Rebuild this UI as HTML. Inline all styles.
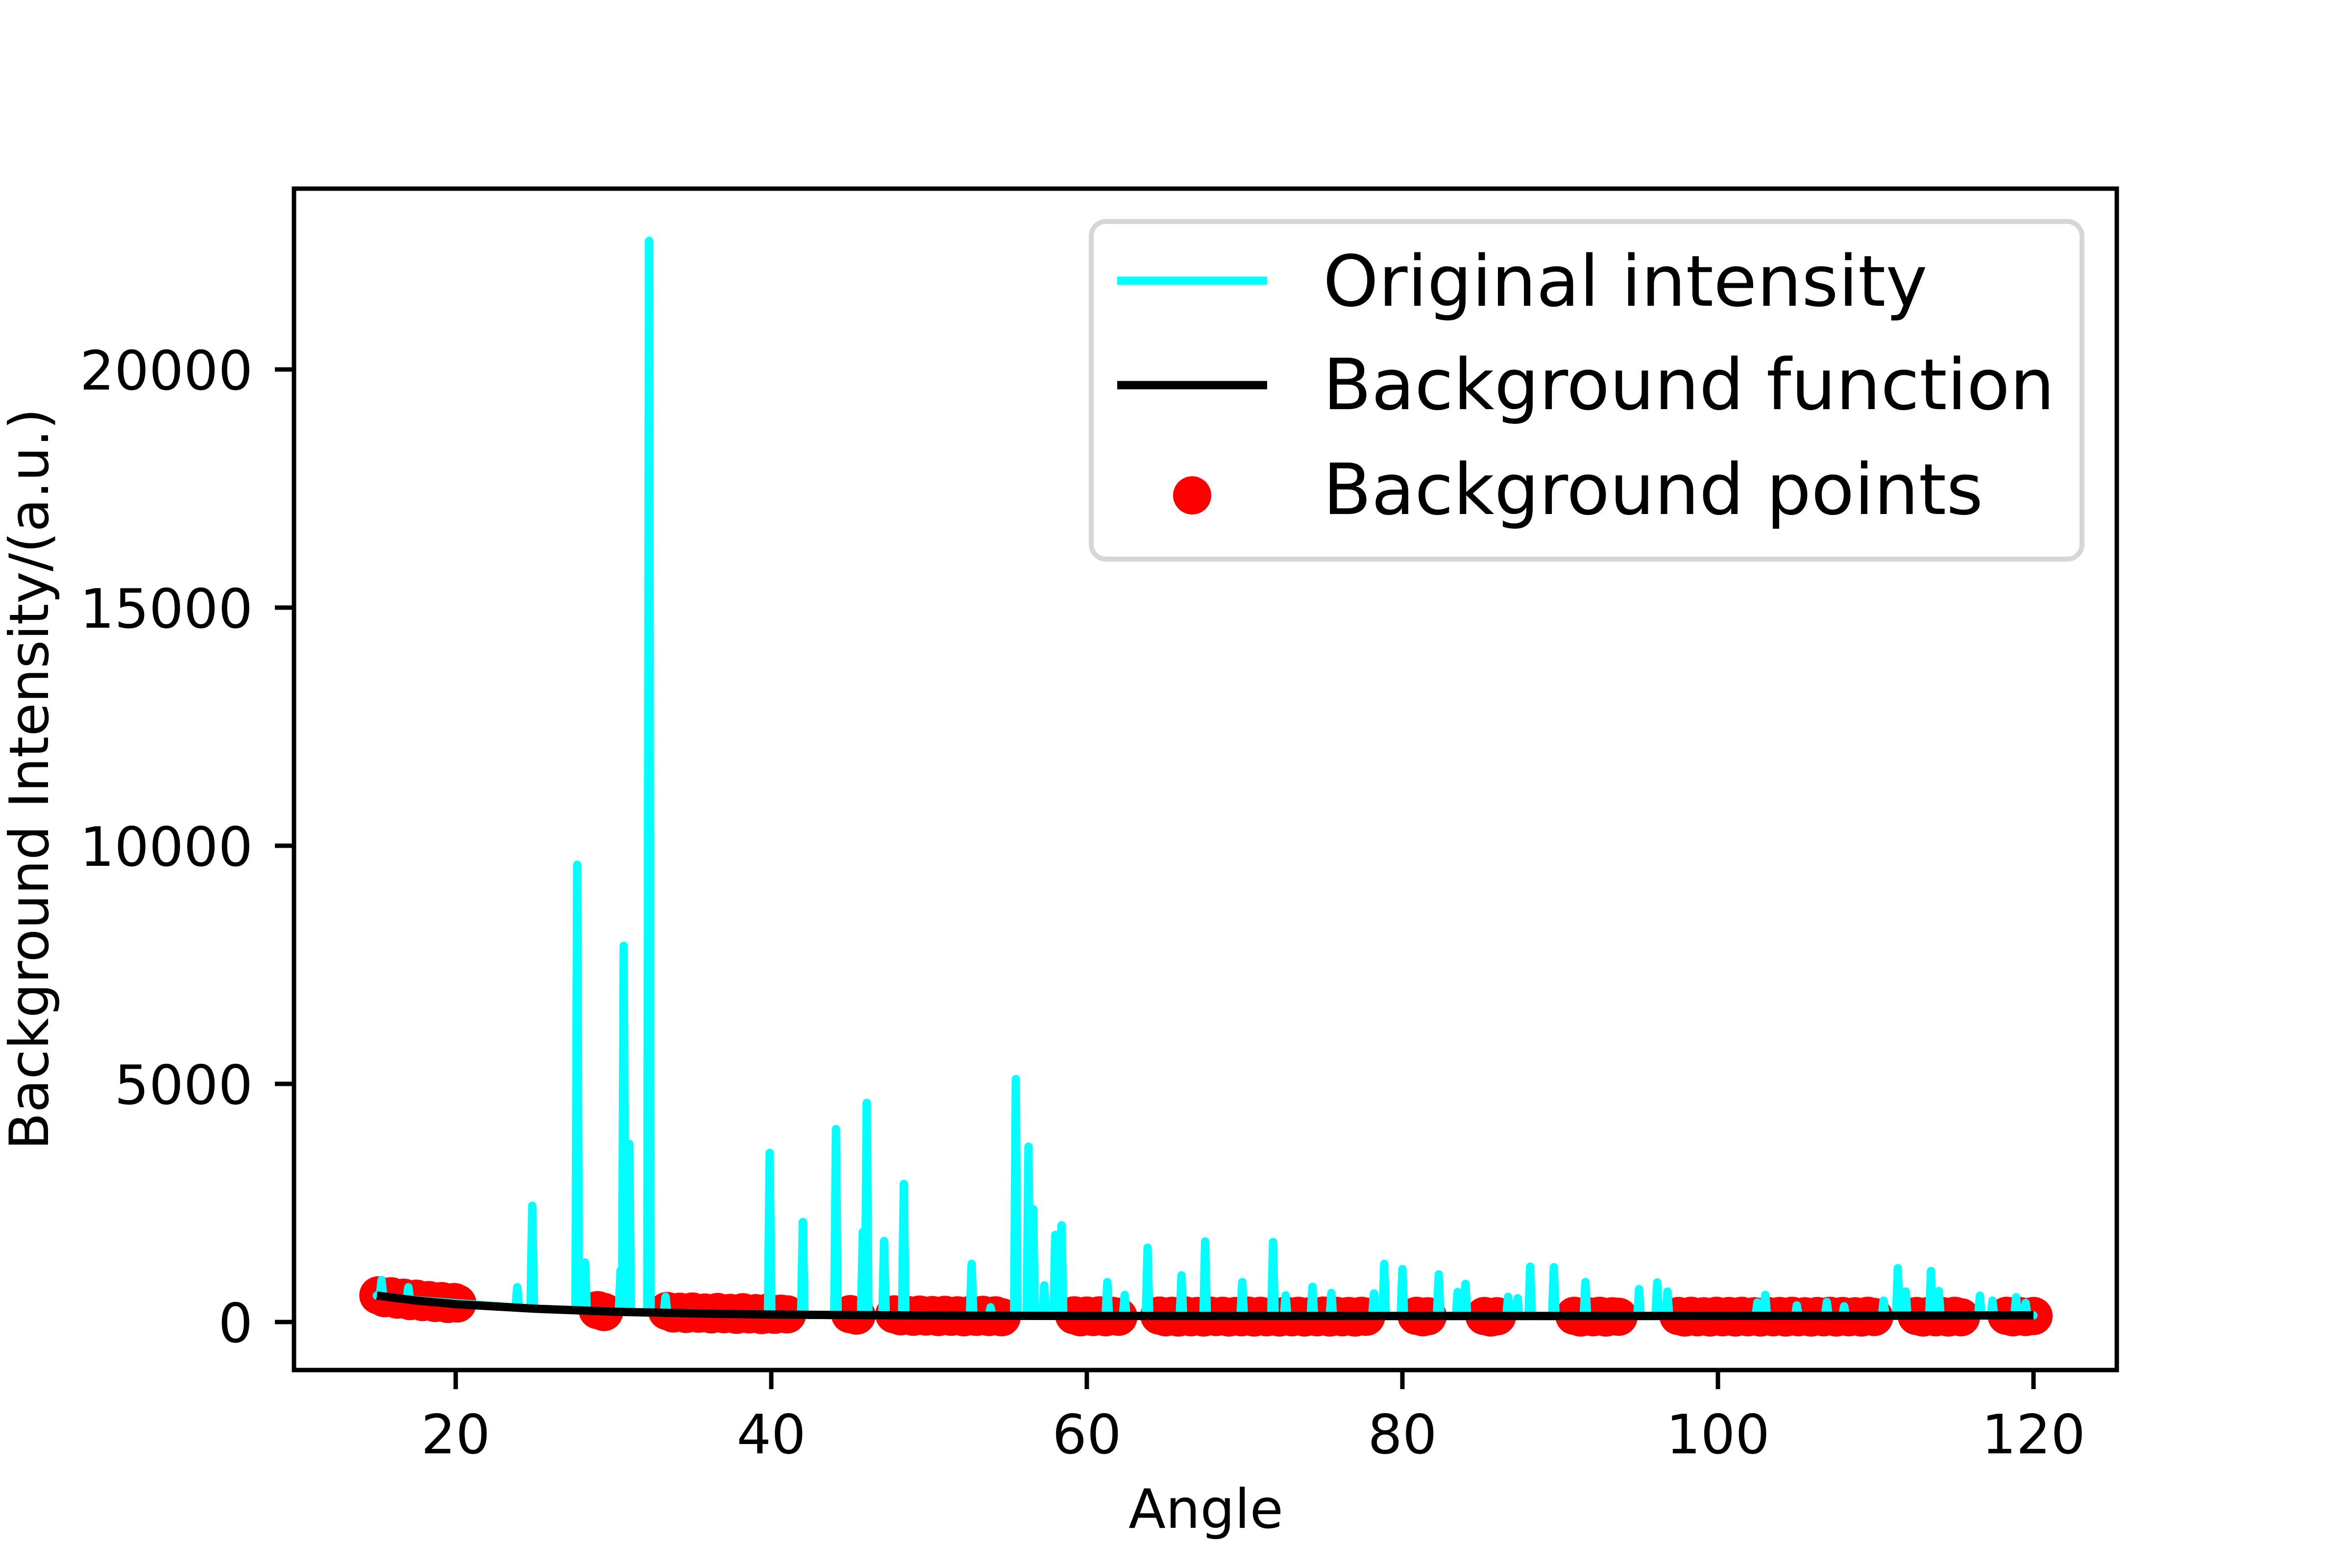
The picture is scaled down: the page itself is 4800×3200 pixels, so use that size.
<!DOCTYPE html>
<html>
<head>
<meta charset="utf-8">
<style>
html,body{margin:0;padding:0;background:#fff;}
svg{display:block;}
text{font-family:"DejaVu Sans","Liberation Sans",sans-serif;fill:#000;}
</style>
</head>
<body>
<svg id="chart" width="4800" height="3200" viewBox="0 0 4800 3200" xmlns="http://www.w3.org/2000/svg">
<rect x="0" y="0" width="4800" height="3200" fill="#fff"/>
<g id="plot"></g>
<g id="axes"></g>
<text x="2461" y="3118" font-size="111" text-anchor="middle">Angle</text>
<text transform="translate(98,1590) rotate(-90)" font-size="111" text-anchor="middle">Background Intensity/(a.u.)</text>
<g>
  <rect x="2227" y="452" width="2022" height="689" rx="30" ry="30" fill="#fff" fill-opacity="0.8" stroke="#d6d6d6" stroke-width="10"/>
  <line x1="2280" y1="573" x2="2586" y2="573" stroke="#00ffff" stroke-width="17"/>
  <text x="2700" y="624" font-size="144">Original intensity</text>
  <line x1="2280" y1="786" x2="2586" y2="786" stroke="#000" stroke-width="17"/>
  <text x="2700" y="835" font-size="144">Background function</text>
  <circle cx="2433" cy="1011" r="39" fill="#ff0000"/>
  <text x="2700" y="1049" font-size="144">Background points</text>
</g>
</svg>
<script>
// ---- data ----
const peakAngles = [15.3,17.0,23.9,24.85,27.7,28.2,30.45,30.65,31.0,32.25,33.3,39.9,42.0,44.1,45.8,46.05,47.15,48.4,52.7,53.9,55.5,56.3,56.6,57.3,58.0,58.4,61.3,62.4,63.85,66.0,67.5,69.85,71.8,72.6,74.3,75.5,78.2,78.85,80.0,82.3,83.5,84.0,86.7,87.3,88.1,89.6,91.6,95.0,96.15,96.8,102.5,103.0,105.0,106.9,108.0,110.5,111.4,111.9,113.5,114.0,116.6,117.4,118.9,119.5];
const peakHeights = [880,730,730,2440,9600,1250,1080,7900,3740,22700,530,3550,2100,4050,1890,4600,1700,2900,1220,310,5100,3680,2370,770,1830,2030,840,570,1560,980,1690,840,1680,560,740,610,600,1220,1110,1000,630,800,530,500,1160,1150,840,690,830,640,410,570,350,420,330,450,1130,640,1070,650,550,450,520,400];
const bgFuncAngles = [15,17.5,20,25,30,35,40,50,60,70,80,90,100,110,120];
const bgFuncValues = [555,450,375,280,216,180,155,135,128,125,125,126,128,132,140];
const bgPointAngles = [15.1,15.5,15.9,16.3,16.7,17.1,17.5,17.9,18.3,18.7,19.1,19.5,19.9,20.1,
 29.0,29.4,
 33.4,33.8,34.2,34.6,35.0,35.4,35.8,36.2,36.6,37.0,37.4,37.8,38.2,38.6,39.0,39.4,39.8,40.2,40.6,41.0,
 45.0,45.4,
 47.8,48.2,48.6,49.0,49.4,49.8,50.2,50.6,51.0,51.4,51.8,52.2,52.6,53.0,53.4,53.8,54.2,54.6,
 59.2,59.6,60.0,60.4,60.8,61.2,61.6,62.0,
 64.6,65.0,65.4,65.8,66.2,66.6,67.0,67.4,67.8,68.2,68.6,69.0,69.4,69.8,70.2,70.6,71.0,71.4,71.8,72.2,72.6,73.0,73.4,73.8,74.2,74.6,75.0,75.4,75.8,76.2,76.6,77.0,77.4,77.7,
 80.9,81.3,81.6,
 85.2,85.6,86.0,
 90.9,91.3,91.7,92.1,92.5,92.9,93.3,93.7,
 97.5,97.9,98.3,98.7,99.1,99.5,99.9,100.3,100.7,101.1,101.5,101.9,102.3,102.7,103.1,103.5,103.9,104.3,104.7,105.1,105.5,105.9,106.3,106.7,107.1,107.5,107.9,108.3,108.7,109.1,109.5,109.9,
 112.6,113.0,113.4,113.8,114.2,114.6,115.0,115.4,
 118.3,118.7,119.1,119.5,120.0];
const bgPointValues = [560,500,540,470,510,440,490,420,460,400,440,380,420,390,
 250,210,
 230,180,215,170,220,175,200,160,210,165,190,150,205,160,185,145,200,150,175,160,
 165,135,
 160,120,150,110,155,115,145,105,150,110,140,100,145,108,150,105,140,100,
 140,100,135,105,140,100,130,110,
 135,100,130,95,140,100,125,95,135,105,130,95,125,100,135,95,130,100,125,95,135,100,130,95,125,100,135,95,130,100,125,95,130,110,
 130,100,120,
 125,95,120,
 130,95,125,100,130,95,120,110,
 125,95,130,100,120,95,130,100,125,95,130,100,120,95,130,100,125,95,130,100,120,95,125,100,130,95,125,100,120,95,130,105,
 125,95,130,100,125,95,130,100,
 130,100,125,105,125];
const xTickValues = [20,40,60,80,100,120];
const yTickValues = [0,5000,10000,15000,20000];
const yTickLabels = ["0","5000","10000","15000","20000"];

// ---- scales ----
const AX = {left:600,right:4320,top:385,bottom:2796};
function xScale(a){ return 930 + (a-20)*32.2; }
function yScale(v){ return 2698 - v*0.0972; }
const NS = "http://www.w3.org/2000/svg";
const plot = document.getElementById('plot');
const axes = document.getElementById('axes');

function interpBg(a){
  for(let i=0;i<bgFuncAngles.length-1;i++){
    if(a>=bgFuncAngles[i] && a<=bgFuncAngles[i+1]){
      const t=(a-bgFuncAngles[i])/(bgFuncAngles[i+1]-bgFuncAngles[i]);
      return bgFuncValues[i]+t*(bgFuncValues[i+1]-bgFuncValues[i]);
    }
  }
  return bgFuncValues[bgFuncValues.length-1];
}

// scatter points (drawn first, underneath)
const gPts = document.createElementNS(NS,'g');


plot.appendChild(gPts);
for(let i=0;i<bgPointAngles.length;i++){
  const c=document.createElementNS(NS,'circle');
  
  
  c.setAttribute('cx',xScale(bgPointAngles[i]).toFixed(1));
  c.setAttribute('cy',yScale(bgPointValues[i]).toFixed(1));
  c.setAttribute('r',39);
  c.setAttribute('fill','#ff0000');
  gPts.appendChild(c);
}

// original intensity
const order = peakAngles.map((a,i)=>i).sort((p,q)=>peakAngles[p]-peakAngles[q]);
let pts = [];
pts.push([15,interpBg(15)]);
const w = 0.11;
order.forEach(i=>{
  const a=peakAngles[i], h=peakHeights[i];
  pts.push([a-w, interpBg(a-w)]);
  pts.push([a, h]);
  pts.push([a+w, interpBg(a+w)]);
});
pts.push([120,interpBg(120)]);
const orig = document.createElementNS(NS,'polyline');


orig.setAttribute('points',pts.map(p=>xScale(p[0]).toFixed(1)+','+yScale(p[1]).toFixed(1)).join(' '));
orig.setAttribute('fill','none');
orig.setAttribute('stroke','#00ffff');
orig.setAttribute('stroke-width','17');
orig.setAttribute('stroke-linejoin','round');
orig.setAttribute('stroke-linecap','round');
plot.appendChild(orig);

// background function
const bf = document.createElementNS(NS,'polyline');


bf.setAttribute('points',bgFuncAngles.map((a,i)=>xScale(a).toFixed(1)+','+yScale(bgFuncValues[i]).toFixed(1)).join(' '));
bf.setAttribute('fill','none');
bf.setAttribute('stroke','#000');
bf.setAttribute('stroke-width','17');
bf.setAttribute('stroke-linejoin','round');
plot.appendChild(bf);

// spines
const frame = document.createElementNS(NS,'rect');


frame.setAttribute('x',AX.left);frame.setAttribute('y',AX.top);
frame.setAttribute('width',AX.right-AX.left);frame.setAttribute('height',AX.bottom-AX.top);
frame.setAttribute('fill','none');frame.setAttribute('stroke','#000');frame.setAttribute('stroke-width','9');
axes.appendChild(frame);

// x ticks
xTickValues.forEach(v=>{
  const x=xScale(v);
  const t=document.createElementNS(NS,'line');
  
  
  t.setAttribute('x1',x);t.setAttribute('x2',x);
  t.setAttribute('y1',AX.bottom);t.setAttribute('y2',AX.bottom+39);
  t.setAttribute('stroke','#000');t.setAttribute('stroke-width','9');
  axes.appendChild(t);
  const l=document.createElementNS(NS,'text');
  
  
  l.setAttribute('x',x);l.setAttribute('y',2966);
  l.setAttribute('font-size','111');l.setAttribute('text-anchor','middle');
  l.textContent=String(v);
  axes.appendChild(l);
});
// y ticks
yTickValues.forEach((v,i)=>{
  const y=yScale(v);
  const t=document.createElementNS(NS,'line');
  
  
  t.setAttribute('x1',AX.left-39);t.setAttribute('x2',AX.left);
  t.setAttribute('y1',y);t.setAttribute('y2',y);
  t.setAttribute('stroke','#000');t.setAttribute('stroke-width','9');
  axes.appendChild(t);
  const l=document.createElementNS(NS,'text');
  
  
  l.setAttribute('x',516);l.setAttribute('y',y+41);
  l.setAttribute('font-size','111');l.setAttribute('text-anchor','end');
  l.textContent=yTickLabels[i];
  axes.appendChild(l);
});
</script>
</body>
</html>
